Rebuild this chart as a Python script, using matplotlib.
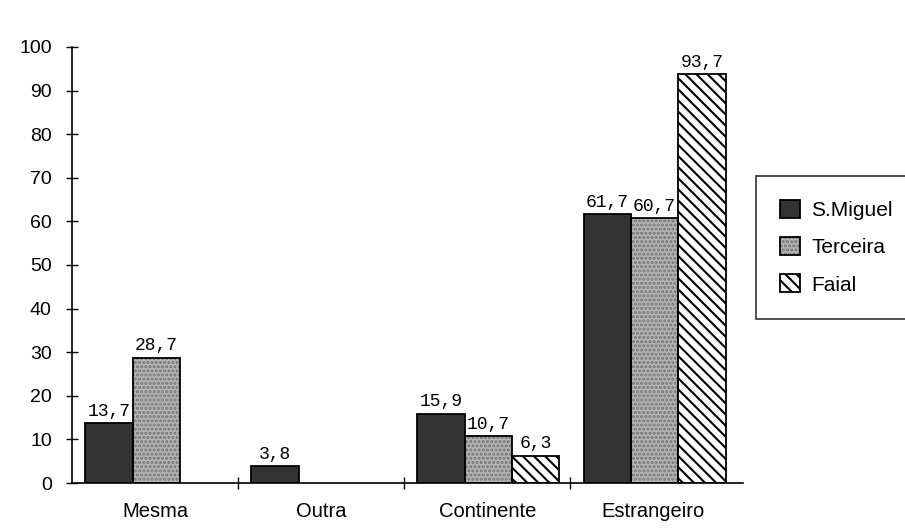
import matplotlib
matplotlib.use("Agg")
import matplotlib.pyplot as plt
from matplotlib.patches import Patch

categories = ['Mesma', 'Outra', 'Continente', 'Estrangeiro']
series_names = ['S.Miguel', 'Terceira', 'Faial']
smiguel = [13.7, 3.8, 15.9, 61.7]
terceira = [28.7, None, 10.7, 60.7]
faial = [None, None, 6.3, 93.7]
yticks = [0, 10, 20, 30, 40, 50, 60, 70, 80, 90, 100]

plt.rcParams['hatch.linewidth'] = 1.5
plt.rcParams['font.family'] = ['Liberation Sans', 'DejaVu Sans']

fig = plt.figure(figsize=(9.05, 5.29), dpi=100)
ax = fig.add_axes([72/905, 1 - 483/529, (743-72)/905, (483-47)/529])

styles = [
    dict(facecolor='#333333', hatch=None, hcolor='black'),
    dict(facecolor='#b4b4b4', hatch='....', hcolor='#747474'),
    dict(facecolor='white', hatch='\\\\\\', hcolor='black'),
]
width = 0.285
offset = 0.08
handles = []
for s, (name, vals, st) in enumerate(zip(series_names, [smiguel, terceira, faial], styles)):
    xs = [i + offset + s * width for i, v in enumerate(vals) if v is not None]
    hs = [v for v in vals if v is not None]
    ax.bar(xs, hs, width=width, align='edge', color=st['facecolor'],
           hatch=st['hatch'], edgecolor=st['hcolor'], linewidth=0, zorder=2)
    ax.bar(xs, hs, width=width, align='edge', fill=False,
           edgecolor='black', linewidth=1.3, zorder=3)
    for x, h in zip(xs, hs):
        ax.text(x + width / 2, h + 0.8, f"{h:.1f}".replace('.', ','),
                ha='center', va='bottom', fontsize=13,
                family=['Liberation Mono', 'DejaVu Sans Mono'])
    hp = Patch(facecolor=st['facecolor'], hatch=st['hatch'], edgecolor=st['hcolor'], linewidth=0)
    hb = Patch(fill=False, edgecolor='black', linewidth=1.3)
    handles.append((hp, hb))

ax.set_xlim(0, 4.04)
ax.set_ylim(0, 100)
ax.spines['top'].set_visible(False)
ax.spines['right'].set_visible(False)
ax.spines['left'].set_linewidth(1.2)
ax.spines['bottom'].set_linewidth(1.2)

ax.set_yticks(yticks)
ax.set_yticklabels([str(t) for t in yticks], fontsize=14)
ax.tick_params(axis='y', direction='inout', length=9, width=1.0, pad=10)

ax.set_xticks([i + 0.5 for i in range(len(categories))])
ax.set_xticklabels(categories, fontsize=14.5)
ax.tick_params(axis='x', which='major', length=0, pad=14)
ax.set_xticks([1, 2, 3], minor=True)
ax.tick_params(axis='x', which='minor', direction='inout', length=9, width=1.0)

leg = fig.legend(handles, series_names, loc='upper left',
                 bbox_to_anchor=(756/905, 1 - 176/529),
                 fontsize=15, frameon=True, fancybox=False,
                 edgecolor='black', handlelength=0.95, handleheight=0.95,
                 labelspacing=0.82, borderpad=1.15, handletextpad=0.55,
                 borderaxespad=0)
leg.get_frame().set_linewidth(1.2)

fig.savefig('out.png', dpi=100)
